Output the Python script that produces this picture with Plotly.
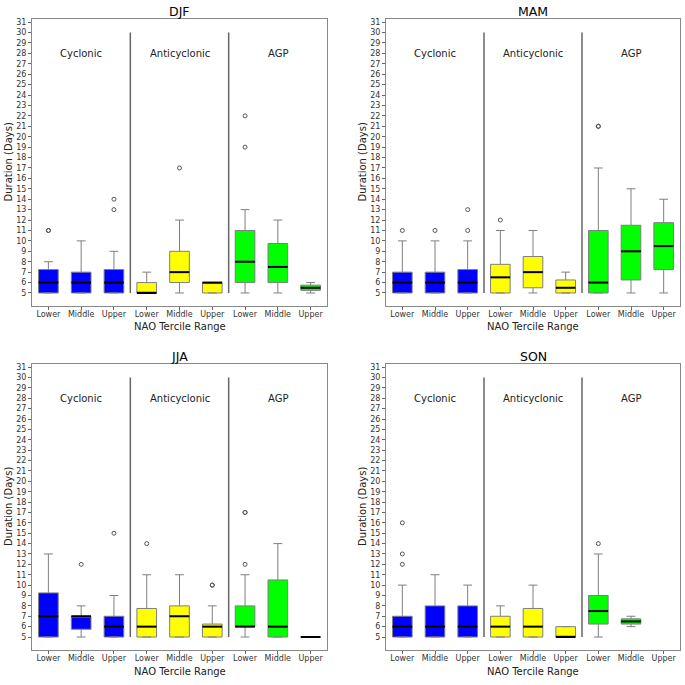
import plotly.graph_objects as go

seasons = ["DJF", "MAM", "JJA", "SON"]
groups = ["Cyclonic", "Anticyclonic", "AGP"]
terciles = ["Lower", "Middle", "Upper"]
group_colors = ["#0000FF", "#FFFF00", "#00FF00"]

# Per season: 9 boxes in order Cyclonic(L,M,U), Anticyclonic(L,M,U), AGP(L,M,U)
q1 = {
    "DJF": [5, 5, 5, 5, 6, 5, 6, 6, 5.25],
    "MAM": [5, 5, 5, 5, 5.5, 5, 5, 6.25, 7.25],
    "JJA": [5, 5.75, 5, 5, 5, 5, 6, 5, 5],
    "SON": [5, 5, 5, 5, 5, 5, 6.25, 6.25, None],
}
median = {
    "DJF": [6, 6, 6, 5, 7, 6, 8, 7.5, 5.5],
    "MAM": [6, 6, 6, 6.5, 7, 5.5, 6, 9, 9.5],
    "JJA": [7, 7, 6, 6, 7, 6, 6, 6, 5],
    "SON": [6, 6, 6, 6, 6, 5, 7.5, 6.5, None],
}
q3 = {
    "DJF": [7.25, 7, 7.25, 6, 9, 6, 11, 9.75, 5.75],
    "MAM": [7, 7, 7.25, 7.75, 8.5, 6.25, 11, 11.5, 11.75],
    "JJA": [9.25, 7, 7, 7.75, 8, 6.25, 8, 10.5, 5],
    "SON": [7, 8, 8, 7, 7.75, 6, 9, 6.75, None],
}
lower_whisker = {
    "DJF": [5, 5, 5, 5, 5, 5, 5, 5, 5],
    "MAM": [5, 5, 5, 5, 5, 5, 5, 5, 5],
    "JJA": [5, 5, 5, 5, 5, 5, 5, 5, 5],
    "SON": [5, 5, 5, 5, 5, 5, 5, 6, None],
}
upper_whisker = {
    "DJF": [8, 10, 9, 7, 12, 6, 13, 12, 6],
    "MAM": [10, 10, 10, 11, 11, 7, 17, 15, 14],
    "JJA": [13, 8, 9, 11, 11, 8, 11, 14, 5],
    "SON": [10, 11, 10, 8, 10, 6, 13, 7, None],
}
outliers = {
    "DJF": [[11, 11], [], [13, 14], [], [17], [], [19, 22], [], []],
    "MAM": [[11], [11], [11, 13], [12], [], [], [21, 21], [], []],
    "JJA": [[], [12], [15], [14], [], [10, 10], [12, 17, 17], [], []],
    "SON": [[12, 13, 16], [], [], [], [], [], [14], [], []],
}

y_ticks = list(range(5, 32))
x_tick_labels = terciles * 3

fig = go.Figure()

W = H = 685


def xd(a, b):
    return [a / W, b / W]


def yd(top, bottom):
    return [1 - bottom / H, 1 - top / H]


domains = {
    "DJF": (xd(32, 327), yd(19, 306)),
    "MAM": (xd(386, 680), yd(19, 306)),
    "JJA": (xd(32, 327), yd(364, 650)),
    "SON": (xd(386, 680), yd(364, 650)),
}

box_w = 0.6
annotations = []
shapes = []
layout_axes = {}

for si, s in enumerate(seasons):
    n = si + 1
    xa = "x" if n == 1 else f"x{n}"
    ya = "y" if n == 1 else f"y{n}"
    for i in range(9):
        if q1[s][i] is None:
            continue
        pos = i + 1
        col = group_colors[i // 3]
        fig.add_trace(go.Box(
            x=[pos], q1=[q1[s][i]], median=[median[s][i]], q3=[q3[s][i]],
            lowerfence=[lower_whisker[s][i]], upperfence=[upper_whisker[s][i]],
            width=box_w, fillcolor=col, line=dict(color="#7f7f7f", width=1),
            whiskerwidth=0.45, boxpoints=False, showlegend=False,
            xaxis=xa, yaxis=ya, hoverinfo="skip",
        ))
        fig.add_trace(go.Scatter(
            x=[pos - box_w / 2, pos + box_w / 2], y=[median[s][i], median[s][i]],
            mode="lines", line=dict(color="black", width=2),
            showlegend=False, xaxis=xa, yaxis=ya, hoverinfo="skip",
        ))
        if outliers[s][i]:
            fig.add_trace(go.Scatter(
                x=[pos] * len(outliers[s][i]), y=outliers[s][i], mode="markers",
                marker=dict(symbol="circle-open", size=4, color="#555555",
                            line=dict(width=1)),
                showlegend=False, xaxis=xa, yaxis=ya, hoverinfo="skip",
            ))
    dx, dy = domains[s]
    layout_axes["xaxis" if n == 1 else f"xaxis{n}"] = dict(
        domain=dx, anchor=ya, range=[0.5, 9.5], automargin=False,
        tickmode="array", tickvals=list(range(1, 10)), ticktext=x_tick_labels,
        ticks="outside", ticklen=3, tickcolor="#666666", ticklabelstandoff=-3,
        tickfont=dict(size=8, color="#333333"),
        showline=True, mirror=True, linecolor="#888888", linewidth=1,
        showgrid=False, zeroline=False,
    )
    layout_axes["yaxis" if n == 1 else f"yaxis{n}"] = dict(
        domain=dy, anchor=xa, range=[3.75, 31.3], automargin=False,
        tickmode="array", tickvals=y_ticks,
        ticks="outside", ticklen=3, tickcolor="#666666",
        tickfont=dict(size=8, color="#333333"),
        showline=True, mirror=True, linecolor="#888888", linewidth=1,
        showgrid=False, zeroline=False,
    )
    # x-axis title
    annotations.append(dict(
        text="NAO Tercile Range", x=(dx[0] + dx[1]) / 2, y=dy[0],
        xref="paper", yref="paper", xanchor="center", yanchor="middle",
        yshift=-21, showarrow=False, font=dict(size=10, color="#222222"),
    ))
    # y-axis title
    annotations.append(dict(
        text="Duration (Days)", x=dx[0], y=(dy[0] + dy[1]) / 2,
        xref="paper", yref="paper", xanchor="center", yanchor="middle",
        xshift=-24, textangle=-90, showarrow=False,
        font=dict(size=10, color="#222222"),
    ))
    # season title
    annotations.append(dict(
        text=s, x=(dx[0] + dx[1]) / 2, y=dy[1], xref="paper", yref="paper",
        xanchor="center", yanchor="bottom", yshift=-2, showarrow=False,
        font=dict(size=12.5, color="black"),
    ))
    # group labels
    for g, gname in enumerate(groups):
        annotations.append(dict(
            text=gname, x=3 * g + 2, y=28, xref=xa, yref=ya,
            showarrow=False, font=dict(size=10, color="#222222"),
        ))
    # separators
    for sep in (3.5, 6.5):
        shapes.append(dict(
            type="line", xref=xa, yref=ya, x0=sep, x1=sep, y0=5, y1=30,
            line=dict(color="#666666", width=1.5),
        ))

fig.update_layout(
    width=W, height=H,
    margin=dict(l=0, r=0, t=0, b=0),
    paper_bgcolor="white", plot_bgcolor="white",
    font=dict(family="DejaVu Sans"),
    annotations=annotations, shapes=shapes,
    showlegend=False,
    **layout_axes,
)

fig.write_html("out.html", config={"displayModeBar": False},
               post_script="document.body.style.margin = '0';")
